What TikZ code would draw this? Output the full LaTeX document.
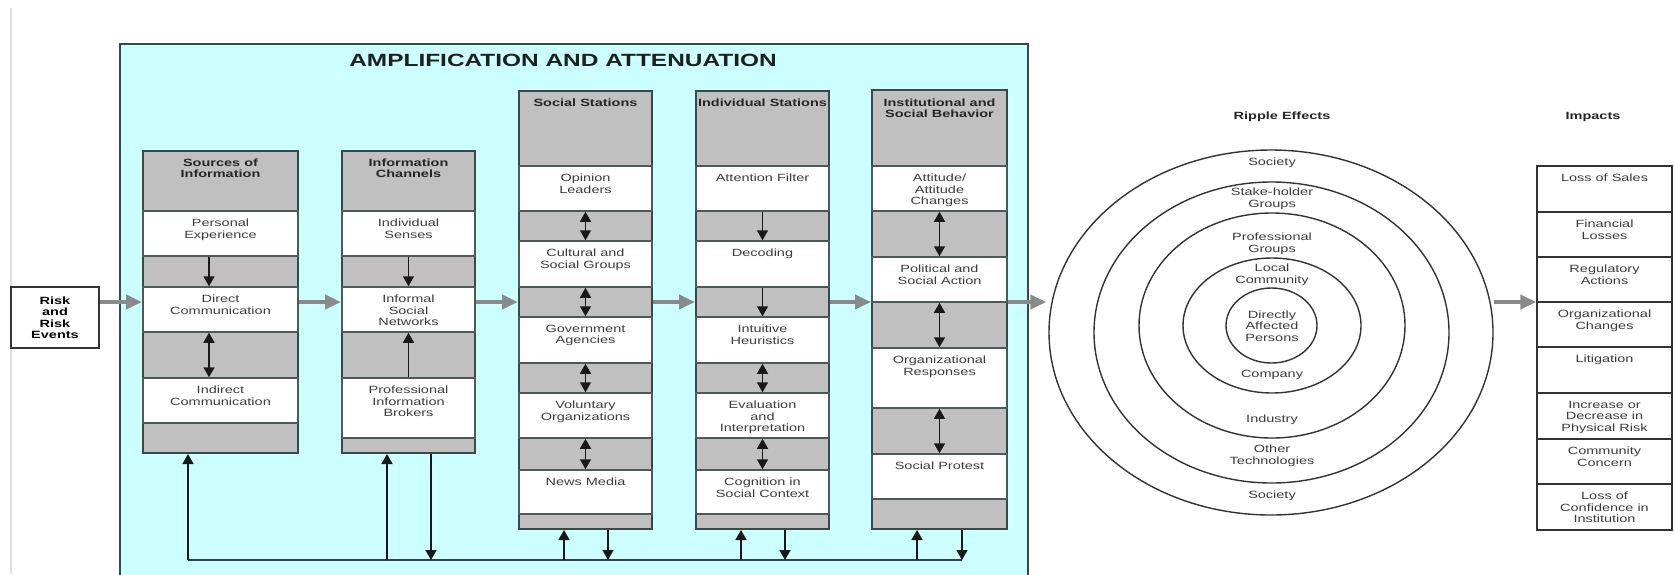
\documentclass[tikz,border=0pt]{standalone}
\usepackage{fontspec}
\setmainfont{Liberation Sans}[FakeStretch=1.38]
\usetikzlibrary{arrows.meta,shapes.geometric,fit}
\definecolor{cyanbg}{RGB}{204,255,255}
\definecolor{cellgray}{RGB}{192,192,192}
\definecolor{frame}{RGB}{58,72,72}
\definecolor{flowgray}{RGB}{138,138,138}
\definecolor{txt}{RGB}{60,60,60}
\newcommand\wcell[6]{%
  \node[wcellbox, fit={(#2,#3) (#4,#5)}] (#1) {};
  \node[sm, anchor=north] (#1t) at ([yshift=-4.25pt]#1.north) {#6};}
\begin{document}
\begin{tikzpicture}[x=0.5pt,y=-0.5pt,
  sm/.style={font=\fontsize{5.25}{5.75}\selectfont, text=txt, align=center, inner sep=0},
  smb/.style={font=\fontsize{5.25}{5.75}\selectfont\bfseries, text=black!85, align=center, inner sep=0},
  colbox/.style={draw=frame, line width=1pt, fill=cellgray, inner sep=0},
  wcellbox/.style={draw=frame!90, line width=0.75pt, fill=white, inner sep=0},
  flow/.style={draw=flowgray, line width=2pt, -{Triangle[length=8pt,width=7pt]}},
  ar/.style={draw=black!90, line width=0.75pt, -{Triangle[length=5pt,width=5.5pt]}},
  dar/.style={draw=black!90, line width=0.75pt, {Triangle[length=5pt,width=5.5pt]}-{Triangle[length=5pt,width=5.5pt]}},
  fbline/.style={draw=frame!90!black, line width=0.75pt},
  ring/.style={ellipse, draw=black!80, line width=0.7pt, inner sep=0},
  ibox/.style={draw=black!80, line width=0.7pt, fill=white, inner sep=0}]
\useasboundingbox (0,0) rectangle (1675,574);
\fill[white] (0,0) rectangle (1675,574);
\draw[black!12, line width=1pt] (11,8) -- (11,574);
% outer cyan frame
\node[draw=frame, line width=1pt, fill=cyanbg, inner sep=0, fit={(120,44) (1028,590)}] (amp) {};
\node[font=\fontsize{8.85}{10}\selectfont\bfseries, text=black!88, inner sep=0] (title) at (563,60) {AMPLIFICATION AND ATTENUATION};
% column 1
\node[colbox, fit={(143,151) (298,453)}] (col1) {};
\node[smb, anchor=north] (col1h) at (220.5,158) {Sources of\\Information};
\wcell{s1}{143}{211}{298}{256}{Personal\\Experience}
\wcell{s2}{143}{287}{298}{332}{Direct\\Communication}
\wcell{s3}{143}{378}{298}{423}{Indirect\\Communication}
\coordinate (a1x) at (209,0);
\draw[ar] (s1.south -| a1x) -- (s2.north -| a1x);
\draw[dar] (s2.south -| a1x) -- (s3.north -| a1x);
% column 2
\node[colbox, fit={(342,151) (475,453)}] (col2) {};
\node[smb, anchor=north] (col2h) at (408.5,158) {Information\\Channels};
\wcell{c1}{342}{211}{475}{256}{Individual\\Senses}
\wcell{c2}{342}{287}{475}{332}{Informal\\Social\\Networks}
\wcell{c3}{342}{378}{475}{438}{Professional\\Information\\Brokers}
\draw[ar] (c1.south) -- (c2.north);
\draw[ar] (c3.north) -- (c2.south);
% column 3
\node[colbox, fit={(519,91) (652,529)}] (col3) {};
\node[smb, anchor=north] (col3h) at (585.5,98) {Social Stations};
\wcell{ss1}{519}{166}{652}{211}{Opinion\\Leaders}
\wcell{ss2}{519}{241}{652}{287}{Cultural and\\Social Groups}
\wcell{ss3}{519}{317}{652}{363}{Government\\Agencies}
\wcell{ss4}{519}{393}{652}{438}{Voluntary\\Organizations}
\wcell{ss5}{519}{470}{652}{514}{News Media}
\draw[dar] (ss1.south) -- (ss2.north);
\draw[dar] (ss2.south) -- (ss3.north);
\draw[dar] (ss3.south) -- (ss4.north);
\draw[dar] (ss4.south) -- (ss5.north);
% column 4
\node[colbox, fit={(696,91) (829,529)}] (col4) {};
\node[smb, anchor=north] (col4h) at (762.5,98) {Individual Stations};
\wcell{is1}{696}{166}{829}{211}{Attention Filter}
\wcell{is2}{696}{241}{829}{287}{Decoding}
\wcell{is3}{696}{317}{829}{363}{Intuitive\\Heuristics}
\wcell{is4}{696}{393}{829}{438}{Evaluation\\and\\Interpretation}
\wcell{is5}{696}{470}{829}{514}{Cognition in\\Social Context}
\draw[ar] (is1.south) -- (is2.north);
\draw[ar] (is2.south) -- (is3.north);
\draw[dar] (is3.south) -- (is4.north);
\draw[dar] (is4.south) -- (is5.north);
% column 5
\node[colbox, fit={(872,90) (1007,529)}] (col5) {};
\node[smb, anchor=north] (col5h) at (939.5,98) {Institutional and\\Social Behavior};
\wcell{ib1}{872}{166}{1007}{211}{Attitude/\\Attitude\\Changes}
\wcell{ib2}{872}{257}{1007}{302}{Political and\\Social Action}
\wcell{ib3}{872}{348}{1007}{408}{Organizational\\Responses}
\wcell{ib4}{872}{454}{1007}{499}{Social Protest}
\draw[dar] (ib1.south) -- (ib2.north);
\draw[dar] (ib2.south) -- (ib3.north);
\draw[dar] (ib3.south) -- (ib4.north);
% risk box
\node[draw=black!80, line width=0.75pt, fill=white, minimum width=44pt, minimum height=30.5pt, inner sep=0,
  font=\fontsize{5.25}{5.75}\selectfont\bfseries, align=center] (risk) at (55,317.5) {Risk\\and\\Risk\\Events};
% ripple effects
\node[smb] (riptitle) at (1282,117) {Ripple Effects};
\node[ring, minimum width=222pt, minimum height=182.5pt] (r5) at (1271,332.5) {};
\node[ring, minimum width=177.5pt, minimum height=150.5pt] (r4) at (1271.5,332.5) {};
\node[ring, minimum width=133pt, minimum height=112.5pt] (r3) at (1272,325.5) {};
\node[ring, minimum width=89pt, minimum height=67.5pt] (r2) at (1272,325.5) {};
\node[ring, minimum width=45.5pt, minimum height=37.5pt] (r1) at (1271.5,325.5) {};
\node[sm] (l1) at (1272,163) {Society};
\node[sm] (l2) at (1272,199) {Stake-holder\\Groups};
\node[sm] (l3) at (1272,244) {Professional\\Groups};
\node[sm] (l4) at (1272,275) {Local\\Community};
\node[sm] (l5) at (1272,326) {Directly\\Affected\\Persons};
\node[sm] (l6) at (1272,375) {Company};
\node[sm] (l7) at (1272,420) {Industry};
\node[sm] (l8) at (1272,456) {Other\\Technologies};
\node[sm] (l9) at (1272,496) {Society};
% impacts
\node[smb] (imptitle) at (1593,117) {Impacts};
\foreach \n/\a/\b/\t in {1/166/212/{Loss of Sales},2/212/257/{Financial\\Losses},3/257/302/{Regulatory\\Actions},
  4/302/347/{Organizational\\Changes},5/347/393/{Litigation},6/393/439/{Increase or\\Decrease in\\Physical Risk},
  7/439/484/{Community\\Concern},8/484/530/{Loss of\\Confidence in\\Institution}}{
  \node[ibox, fit={(1537,\a) (1672,\b)}] (imp\n) {};
  \node[sm, anchor=north] (imp\n t) at ([yshift=-4.25pt]imp\n.north) {\t};
}
% main flow arrows
\coordinate (fy) at (0,302);
\draw[flow] (risk.east |- fy) -- (col1.west |- fy);
\draw[flow] (col1.east |- fy) -- (col2.west |- fy);
\draw[flow] (col2.east |- fy) -- (col3.west |- fy);
\draw[flow] (col3.east |- fy) -- (col4.west |- fy);
\draw[flow] (col4.east |- fy) -- (col5.west |- fy);
\draw[flow] (col5.east |- fy) -- ([xshift=-1pt]r5.west |- fy);
\draw[flow] (r5.east |- fy) -- (imp3.west |- fy);
% feedback loop
\coordinate (b1) at (188,560);
\coordinate (b2) at (387,560);
\coordinate (b3) at (431,560);
\coordinate (b4) at (564,560);
\coordinate (b5) at (608,560);
\coordinate (b6) at (741,560);
\coordinate (b7) at (785,560);
\coordinate (b8) at (917,560);
\coordinate (b9) at (962,560);
\draw[fbline] (b1) -- (b9);
\draw[ar] (b1) -- (b1 |- col1.south);
\draw[ar] (b2) -- (b2 |- col2.south);
\draw[ar] (b3 |- col2.south) -- (b3);
\draw[ar] (b4) -- (b4 |- col3.south);
\draw[ar] (b5 |- col3.south) -- (b5);
\draw[ar] (b6) -- (b6 |- col4.south);
\draw[ar] (b7 |- col4.south) -- (b7);
\draw[ar] (b8) -- (b8 |- col5.south);
\draw[ar] (b9 |- col5.south) -- (b9);
\end{tikzpicture}
\end{document}
